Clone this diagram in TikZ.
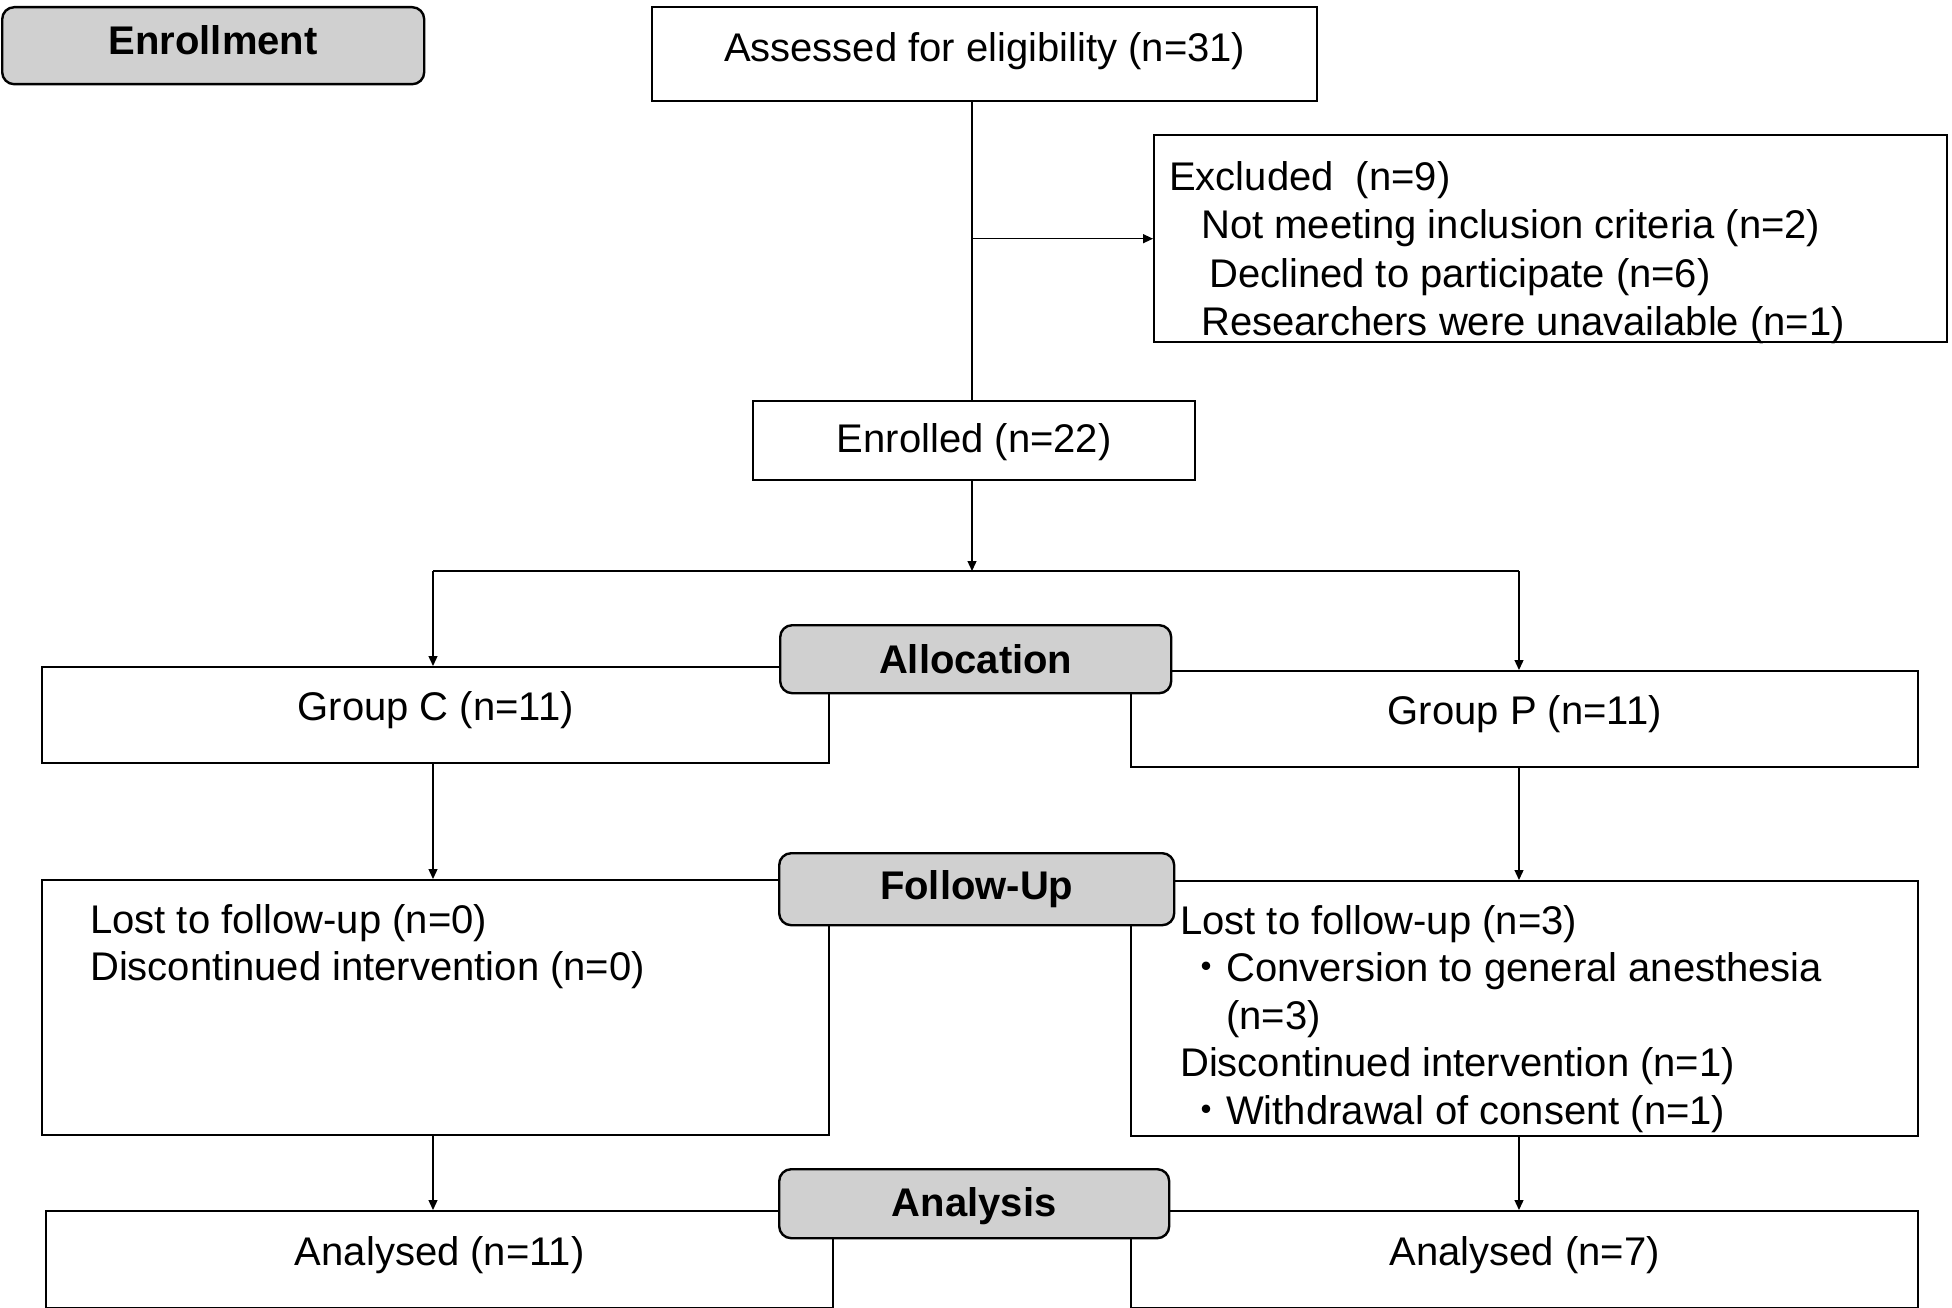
\documentclass[tikz,border=0pt]{standalone}
\usepackage{fontspec}
\setmainfont{Liberation Sans}
\newfontfamily\cjk{Noto Sans CJK JP}
\usetikzlibrary{arrows.meta}
\definecolor{stagegray}{RGB}{208,208,208}
\tikzset{
    plain-box/.style = {draw=black, fill=white, line width=2.4pt, rectangle, inner sep=0pt, text depth=18pt, anchor=north west, font=\fontsize{40}{48}\selectfont},
    stage-box/.style = {draw=black, fill=stagegray, line width=2.4pt, rectangle, rounded corners=12pt, inner sep=0pt, anchor=north west, font=\fontsize{40}{48}\selectfont\bfseries},
    box-text/.style = {inner sep=0pt, anchor=north west, align=left, font=\fontsize{40}{47.5}\selectfont},
    link/.style = {line width=1.3pt},
    link-arrow/.style = {link, -{Triangle[length=10pt,width=9pt]}},
}

\begin{document}
\begin{tikzpicture}[x=1pt,y=-1pt]
\useasboundingbox (0,0) rectangle (1952,1308);

% boxes
\node [plain-box, minimum width=665pt, minimum height=94pt, text depth=14pt] (assess) at (651,6) {Assessed for eligibility (n=31)};
\node [plain-box, minimum width=793pt, minimum height=207pt] (excl) at (1153,134) {};
\node [box-text, font=\fontsize{40}{48.5}\selectfont] (excl-text) at (1169,161) {Excluded\ \ (n=9)\\
    \hspace*{32pt}Not meeting inclusion criteria (n=2)\\
    \hspace*{40pt}Declined to participate (n=6)\\
    \hspace*{32pt}Researchers were unavailable (n=1)};
\node [plain-box, minimum width=442pt, minimum height=79pt, text depth=6pt] (enrol) at (752,400) {Enrolled (n=22)};

\node [plain-box, minimum width=787pt, minimum height=96pt] (group-c) at (41,666) {Group C (n=11)};
\node [plain-box, minimum width=787pt, minimum height=96pt] (group-p) at (1130,670) {Group P (n=11)};

\node [plain-box, minimum width=787pt, minimum height=255pt] (follow-c) at (41,879) {};
\node [box-text] (follow-c-text) at (90,904) {Lost to follow-up (n=0)\\Discontinued intervention (n=0)};
\node [plain-box, minimum width=787pt, minimum height=255pt] (follow-p) at (1130,880) {};
\node [box-text] (follow-p-text) at (1180,905) {Lost to follow-up (n=3)\\
    \hspace*{6pt}{\cjk ・}Conversion to general anesthesia\\
    \hspace*{46pt}(n=3)\\
    Discontinued intervention (n=1)\\
    \hspace*{6pt}{\cjk ・}Withdrawal of consent (n=1)};

\node [plain-box, minimum width=787pt, minimum height=97pt] (analysed-c) at (45,1210) {Analysed (n=11)};
\node [plain-box, minimum width=787pt, minimum height=97pt] (analysed-p) at (1130,1210) {Analysed (n=7)};

% connectors
\coordinate (split) at (972,571);
\coordinate (split-c) at (433,571);
\coordinate (split-p) at (1519,571);
\draw [link] (split |- assess.south) -- (split |- enrol.north);
\draw [link-arrow] (split |- excl.west) -- (excl.west);
\draw [link-arrow] (split |- enrol.south) -- (split);
\draw [line width=2.4pt] (split-c) -- (split-p);
\draw [link-arrow] (split-c) -- (split-c |- group-c.north);
\draw [link-arrow] (split-p) -- (split-p |- group-p.north);
\draw [link-arrow] (split-c |- group-c.south) -- (split-c |- follow-c.north);
\draw [link-arrow] (split-p |- group-p.south) -- (split-p |- follow-p.north);
\draw [link-arrow] (split-c |- follow-c.south) -- (split-c |- analysed-c.north);
\draw [link-arrow] (split-p |- follow-p.south) -- (split-p |- analysed-p.north);

% stage labels
\node [stage-box, minimum width=422pt, minimum height=77pt, text depth=12pt] (enrollment) at (1,6) {Enrollment};
\node [stage-box, minimum width=391pt, minimum height=68pt] (allocation) at (779,624) {Allocation};
\node [stage-box, minimum width=395pt, minimum height=72pt] (follow-up) at (778,852) {Follow-Up};
\node [stage-box, minimum width=390pt, minimum height=69pt, text depth=4pt] (analysis) at (778,1168) {Analysis};
\end{tikzpicture}
\end{document}
